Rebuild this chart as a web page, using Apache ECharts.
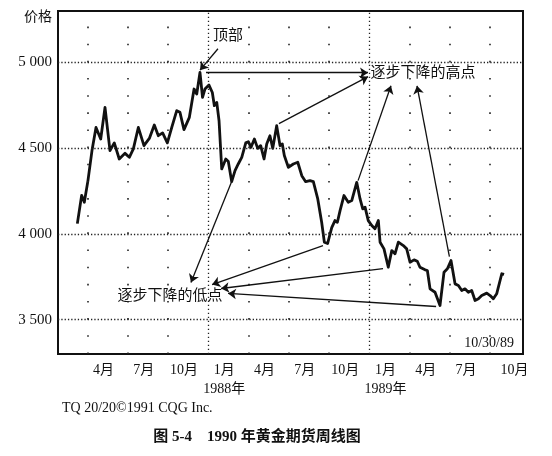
<!DOCTYPE html>
<html><head><meta charset="utf-8">
<script src="https://cdn.jsdelivr.net/npm/echarts@6/dist/echarts.min.js"></script>
<style>html,body{margin:0;padding:0;background:#fff}#c{width:552px;height:456px}</style>
</head><body><div id="c"></div>
<script>
// x position of each weekly close, in months counted from 1 Jan 1987
const weekMonths = [2.26,2.58,2.78,3.05,3.35,3.65,4.0,4.32,4.69,5.01,
5.38,5.81,6.13,6.43,6.80,7.22,7.62,7.99,8.29,8.61,
8.96,9.29,9.66,9.90,10.20,10.60,10.95,11.15,11.39,11.58,
11.76,12.06,12.31,12.46,12.64,12.81,13.01,13.31,13.50,13.75,
14.0,14.24,14.50,14.80,14.99,15.19,15.44,15.69,15.91,16.16,
16.36,16.60,16.81,17.10,17.35,17.52,17.67,17.97,18.34,18.67,
18.97,19.26,19.58,19.83,20.16,20.45,20.65,20.89,21.2,21.44,
21.62,21.82,22.11,22.43,22.69,23.06,23.31,23.51,23.68,23.92,
24.18,24.42,24.67,24.80,25.09,25.41,25.67,25.91,26.16,26.53,
26.78,27.03,27.33,27.57,27.77,28.15,28.32,28.52,28.89,29.02,
29.26,29.56,29.81,30.08,30.38,30.63,30.88,31.12,31.37,31.62,
31.87,32.12,32.37,32.74,32.99,33.23,33.48,33.86,34.03];
const prices = [4060,4225,4185,4311,4486,4621,4554,4738,4486,4531,
4437,4470,4447,4496,4621,4515,4557,4635,4573,4589,
4531,4621,4719,4709,4608,4680,4845,4816,4942,4796,
4845,4868,4825,4748,4767,4660,4379,4437,4422,4305,
4369,4408,4447,4531,4538,4505,4554,4499,4515,4437,
4525,4573,4499,4631,4515,4525,4457,4388,4408,4418,
4340,4305,4311,4305,4204,4068,3952,3944,4037,4078,
4068,4136,4224,4185,4195,4301,4204,4146,4156,4078,
4049,4030,4078,3952,3913,3806,3903,3884,3952,3932,
3913,3835,3849,3841,3806,3791,3787,3680,3660,3670,
3583,3777,3797,3845,3709,3700,3670,3680,3660,3670,
3612,3622,3641,3655,3641,3622,3651,3768,3764];

const xMin = 0.82, xMax = 35.44;
const yMin = 3300, yMax = 5300;
const quarterLines = [3,6,9,15,18,21,27,30,33];
const yearLines = [12,24];
const priceLines = [3500,4000,4500,5000];
const yTickLabels = ['3 500','4 000','4 500','5 000'];
const xLabelPos = [4.2,7.2,10.2,13.2,16.2,19.2,22.2,25.2,28.2,31.2,34.8];
const xLabels = ['4月','7月','10月','1月','4月','7月','10月','1月','4月','7月','10月'];
const yearLabels = {3:'1988年', 7:'1989年'};

// annotation arrows [fromMonth, fromPrice, toMonth, toPrice]
const topArrow = [[12.73,5080,11.39,4955]];
const highArrows = [[11.84,4940,23.9,4940],[17.27,4643,23.9,4917],[23.16,4311,25.61,4864],[29.96,3868,27.55,4864]];
const lowArrows = [[13.78,4311,10.72,3717],[20.55,3932,12.29,3705],[25.02,3798,12.96,3682],[28.97,3577,13.48,3653]];

const W = 552, H = 456;
const grid = {left:58, right:29, top:11, bottom:102};
const plotH = H - grid.top - grid.bottom;
const stepPx = plotH / ((yMax - yMin) / 100);

const serif = '"Liberation Serif","Noto Sans CJK SC",serif';

const arrowData = topArrow.concat(highArrows, lowArrows).map(a => [
  {coord:[a[0], a[1]]}, {coord:[a[2], a[3]]}
]);

const chart = echarts.init(document.getElementById('c'), null, {renderer:'canvas'});
chart.setOption({
  animation:false,
  backgroundColor:'#fff',
  grid:{left:grid.left, right:grid.right, top:grid.top, bottom:grid.bottom, show:true, borderColor:'#111', borderWidth:2, backgroundColor:'transparent'},
  xAxis:{
    type:'value', min:xMin, max:xMax,
    axisLine:{show:false}, axisTick:{show:false}, splitLine:{show:false},
    axisLabel:{
      customValues:xLabelPos, margin:7, color:'#111', fontFamily:serif, fontSize:14, lineHeight:19,
      formatter:(v)=>{
        let idx = 0, best = 1e9;
        xLabelPos.forEach((p,i)=>{ if (Math.abs(p-v)<best){best=Math.abs(p-v);idx=i;} });
        return yearLabels[idx] ? xLabels[idx] + '\n' + yearLabels[idx] : xLabels[idx];
      }
    }
  },
  yAxis:{
    type:'value', min:yMin, max:yMax,
    axisLine:{show:false}, axisTick:{show:false}, splitLine:{show:false},
    axisLabel:{
      customValues:priceLines, margin:6, color:'#111', fontFamily:serif, fontSize:15,
      formatter:(v)=>yTickLabels[priceLines.indexOf(v)]
    }
  },
  graphic:[
    {type:'text', x:38, y:17, style:{text:'价格', font:'14px '+serif, fill:'#111', align:'center', verticalAlign:'middle'}},
    {type:'text', x:228, y:36, style:{text:'顶部', font:'15px '+serif, fill:'#111', align:'center', verticalAlign:'middle'}},
    {type:'text', x:423, y:73, style:{text:'逐步下降的高点', font:'15px '+serif, fill:'#111', align:'center', verticalAlign:'middle', backgroundColor:'#fff'}},
    {type:'text', x:170, y:296, style:{text:'逐步下降的低点', font:'15px '+serif, fill:'#111', align:'center', verticalAlign:'middle', backgroundColor:'#fff'}},
    {type:'text', x:514, y:343, style:{text:'10/30/89', font:'14px '+serif, fill:'#111', align:'right', verticalAlign:'middle'}},
    {type:'text', x:62, y:408, style:{text:'TQ 20/20©1991 CQG Inc.', font:'14px '+serif, fill:'#111', align:'left', verticalAlign:'middle'}},
    {type:'text', x:257, y:437, style:{text:'图 5-4    1990 年黄金期货周线图', font:'bold 15px '+serif, fill:'#111', align:'center', verticalAlign:'middle'}}
  ],
  series:[
    {
      type:'line', data:[], silent:true, z:1,
      markLine:{
        silent:true, symbol:['none','none'], label:{show:false}, animation:false,
        emphasis:{disabled:true},
        data: quarterLines.map(v=>({xAxis:v, lineStyle:{color:'#222', width:1.6, type:[1.6, stepPx-1.6], cap:'butt'}}))
          .concat(yearLines.map(v=>({xAxis:v, lineStyle:{color:'#222', width:1.3, type:[1.3, 2.7]}})))
          .concat(priceLines.map(v=>({yAxis:v, lineStyle:{color:'#222', width:1.3, type:[1.3, 2.0]}})))
      }
    },
    {
      type:'line', z:3,
      data: weekMonths.map((m,i)=>[m, prices[i]]),
      showSymbol:false, symbol:'none', silent:true,
      lineStyle:{color:'#111', width:2.8, join:'round'},
      markLine:{
        silent:true, symbol:['none','arrow'], symbolSize:8, label:{show:false}, animation:false,
        emphasis:{disabled:true},
        lineStyle:{color:'#111', width:1.3, type:'solid'},
        itemStyle:{color:'#111'},
        data: arrowData
      }
    }
  ]
});
</script></body></html>
